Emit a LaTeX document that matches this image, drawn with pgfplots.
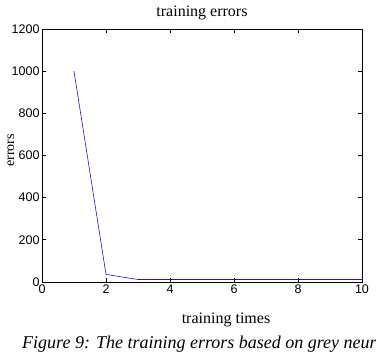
\documentclass[border=0pt]{standalone}
\usepackage{pgfplots}
\pgfplotsset{compat=1.18}
\usepackage{fontspec}
\setmainfont{Liberation Serif}
\newfontfamily\arial{Liberation Sans}
\begin{document}
\begin{tikzpicture}[x=1pt,y=1pt]
\begin{axis}[
  at={(0,0)}, anchor=south west,
  scale only axis, width=320pt, height=253pt,
  xmin=0, xmax=10, ymin=0, ymax=1200,
  xtick={0,2,4,6,8,10}, ytick={0,200,400,600,800,1000,1200},
  tick align=inside, tick pos=both,
  major tick length=4pt,
  tick style={black, line width=0.8pt},
  axis line style={line width=0.8pt},
  /pgf/number format/assume math mode=true,
  /pgf/number format/1000 sep={},
  tick label style={font=\arial\fontsize{12.5}{12.5}\selectfont},
  yticklabel style={xshift=1pt},
  xticklabel style={yshift=1pt},
  title={training errors},
  title style={font=\fontsize{16}{16}\selectfont, at={(axis description cs:0.5,1)}, anchor=base, yshift=6pt},
  xlabel={training times},
  xlabel style={font=\fontsize{16}{16}\selectfont, at={(axis description cs:0.5,0)}, anchor=base, yshift=-42pt, xshift=24pt},
  ylabel={errors},
  ylabel style={font=\fontsize{14}{14}\selectfont, at={(axis description cs:0,0.52)}, anchor=base, yshift=28pt},
  every axis plot/.append style={line width=0.6pt},
]
\addplot[color={rgb,255:red,20;green,20;blue,220}, mark=none] coordinates {
(1,1000) (2,36) (3,12) (4,12) (5,12) (6,12) (7,12) (8,12) (9,12) (10,12)
};
\end{axis}
\node[anchor=base west, inner sep=0pt, font=\itshape\fontsize{18}{18}\selectfont] at (-20,-67) {Figure 9: The training errors based on grey neur};
\pgfresetboundingbox
\useasboundingbox (-42,-76) rectangle (334,282);
\end{tikzpicture}
\end{document}
